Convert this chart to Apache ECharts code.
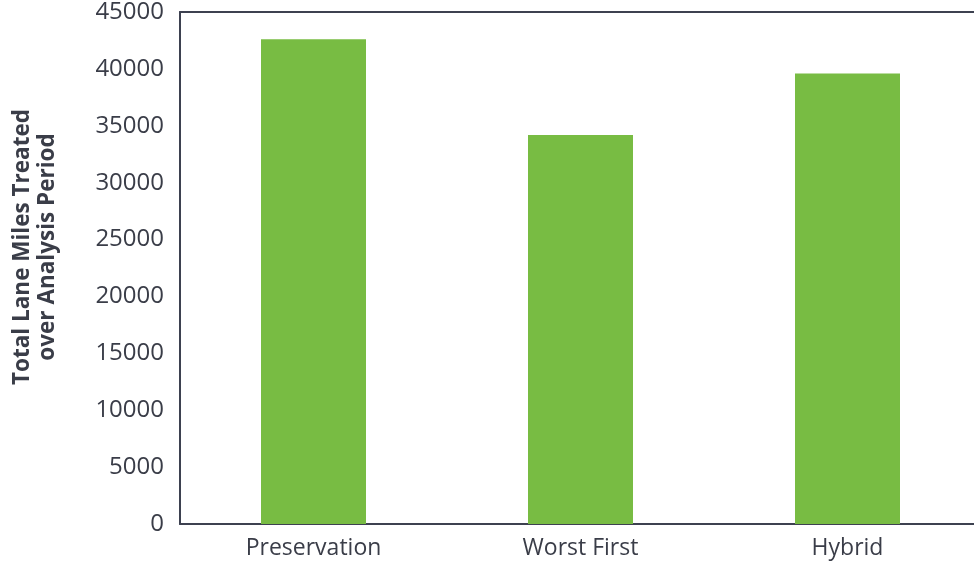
<!DOCTYPE html>
<html>
<head>
<meta charset="utf-8">
<script src="https://cdn.jsdelivr.net/npm/echarts@6/dist/echarts.min.js"></script>
<style>
html,body{margin:0;padding:0;background:#fff;}
#c{width:974px;height:569px;}
</style>
</head>
<body>
<div id="c"></div>
<script>
var categories = ['Preservation', 'Worst First', 'Hybrid'];
var laneMiles = [42600, 34200, 39600];
var yTicks = [0, 5000, 10000, 15000, 20000, 25000, 30000, 35000, 40000, 45000];

var chart = echarts.init(document.getElementById('c'), null, {renderer: 'canvas'});
var axisColor = '#3d4150';
var font = 'Open Sans';
chart.setOption({
  animation: false,
  backgroundColor: '#fff',
  grid: {left: 180, top: 12, bottom: 45, right: -7, containLabel: false, outerBoundsMode: 'none'},
  xAxis: [{
    type: 'category',
    data: categories,
    axisLine: {show: true, lineStyle: {color: axisColor, width: 2}},
    axisTick: {show: false},
    axisLabel: {color: '#3a3d48', fontSize: 23, fontFamily: font, margin: 13}
  }, {
    type: 'category',
    position: 'top',
    data: categories,
    axisLine: {show: true, lineStyle: {color: axisColor, width: 2}},
    axisTick: {show: false},
    axisLabel: {show: false}
  }],
  yAxis: {
    type: 'value',
    min: yTicks[0],
    max: yTicks[yTicks.length - 1],
    interval: 5000,
    axisLine: {show: true, lineStyle: {color: axisColor, width: 2}},
    axisTick: {show: false},
    splitLine: {show: false},
    axisLabel: {color: '#3a3d48', fontSize: 24, fontFamily: font, margin: 16,
      formatter: function (v) { return String(v); }},
    name: 'Total Lane Miles Treated\nover Analysis Period',
    nameLocation: 'middle',
    nameGap: 120,
    nameMoveOverlap: false,
    nameRotate: 90,
    nameTextStyle: {color: '#3a3d48', fontSize: 22.5, fontWeight: 'bold', fontFamily: font, lineHeight: 25, padding: [0, 0, 0, 42]}
  },
  series: [{
    type: 'bar',
    data: laneMiles,
    barWidth: 105,
    itemStyle: {color: '#78bc43'}
  }]
});
</script>
</body>
</html>
